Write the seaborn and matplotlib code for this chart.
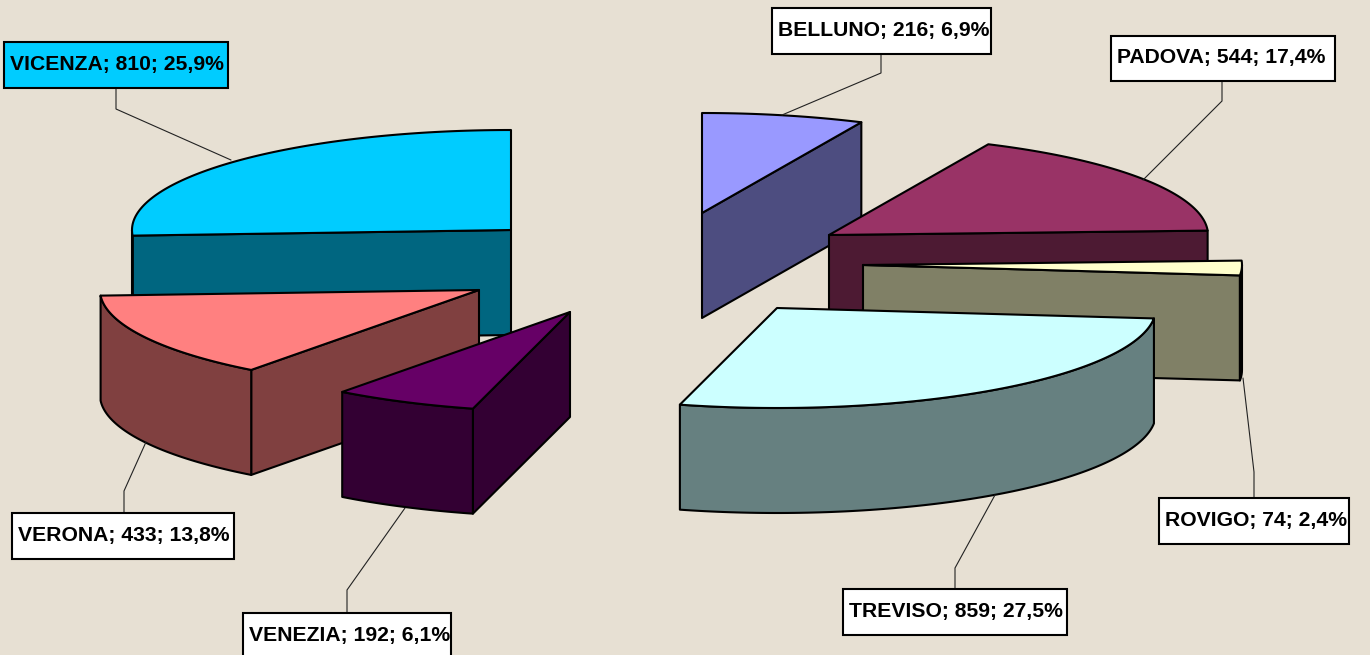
import numpy as np
import matplotlib
matplotlib.use("Agg")
import matplotlib.pyplot as plt
from matplotlib.patches import Polygon, Rectangle
import seaborn as sns

# ---- data ----
provinces = ["BELLUNO", "PADOVA", "ROVIGO", "TREVISO", "VENEZIA", "VERONA", "VICENZA"]
counts = [216, 544, 74, 859, 192, 433, 810]

# ---- styles ----
top_colors = ["#9999FF", "#993366", "#FFFFCC", "#CCFFFF", "#660066", "#FF8080", "#00CCFF"]
side_colors = ["#4D4D80", "#4D1A33", "#808066", "#668080", "#330033", "#804040", "#006680"]
label_faces = ["white", "white", "white", "white", "white", "white", "#00CCFF"]
BG = "#E7E0D3"
RX, RY, DEPTH = 379, 100, 105

# ---- layout (pixel space) ----
apexes = {"BELLUNO": (702, 213), "PADOVA": (829, 235), "ROVIGO": (863, 265),
          "TREVISO": (777, 308), "VENEZIA": (570, 312), "VERONA": (479, 290),
          "VICENZA": (511, 230)}
draw_order = ["BELLUNO", "VICENZA", "PADOVA", "ROVIGO", "VERONA", "TREVISO", "VENEZIA"]
boxes = {"BELLUNO": (772, 8, 991, 54), "PADOVA": (1111, 36, 1335, 81),
         "ROVIGO": (1159, 498, 1349, 544), "TREVISO": (843, 589, 1067, 635),
         "VENEZIA": (243, 613, 451, 662), "VERONA": (12, 513, 234, 559),
         "VICENZA": (4, 42, 228, 88)}
leaders = {"BELLUNO": [(881, 54), (881, 73), (782, 115)],
           "PADOVA": [(1222, 81), (1222, 101), (1143, 180)],
           "ROVIGO": [(1254, 498), (1254, 472), (1243, 378)],
           "TREVISO": [(955, 589), (955, 568), (995, 495)],
           "VENEZIA": [(347, 613), (347, 590), (405, 508)],
           "VERONA": [(124, 513), (124, 491), (146, 442)],
           "VICENZA": [(116, 88), (116, 109), (231, 160)]}

sns.set_theme(style="white")
plt.rcParams["font.family"] = ["Liberation Sans", "DejaVu Sans"]
tops = sns.color_palette(top_colors)
sides = sns.color_palette(side_colors)

fig = plt.figure(figsize=(13.70, 6.55), dpi=100, facecolor=BG)
ax = fig.add_axes([0, 0, 1, 1])
ax.set_xlim(0, 1370)
ax.set_ylim(655, 0)
ax.axis("off")

total = sum(counts)
edges = np.cumsum([0] + counts) / total * 2 * np.pi
z = 2
LW = 1.5


def rim(cx, cy, a, b):
    t = np.linspace(a, b, max(3, int((b - a) * 60)))
    return np.column_stack([cx + RX * np.sin(t), cy - RY * np.cos(t)])


def wall(points, color):
    global z
    pts = np.vstack([points, (points + [0, DEPTH])[::-1]])
    ax.add_patch(Polygon(pts, closed=True, facecolor=color, edgecolor="black",
                         linewidth=LW, joinstyle="round", zorder=z))
    z += 1


for name in draw_order:
    i = provinces.index(name)
    a, b = edges[i], edges[i + 1]
    cx, cy = apexes[name]
    apex = np.array([cx, cy], float)
    arc = rim(cx, cy, a, b)
    # a cut face is visible when its outward normal points towards the viewer
    if np.sin(a) < -1e-9:
        wall(np.array([apex, arc[0]]), sides[i])
    if np.sin(b) > 1e-9:
        wall(np.array([apex, arc[-1]]), sides[i])
    # visible part of the rim: lower half of the ellipse
    lo, hi = max(a, np.pi / 2), min(b, 3 * np.pi / 2)
    if hi > lo:
        wall(rim(cx, cy, lo, hi), sides[i])
    ax.add_patch(Polygon(np.vstack([apex, arc]), closed=True, facecolor=tops[i],
                         edgecolor="black", linewidth=LW, joinstyle="round", zorder=z))
    z += 1

for i, name in enumerate(provinces):
    pct = f"{counts[i] / total * 100:.1f}".replace(".", ",")
    x0, y0, x1, y1 = boxes[name]
    xs, ys = zip(*leaders[name])
    ax.plot(xs, ys, color="#222222", lw=0.8, zorder=z, solid_joinstyle="miter")
    ax.add_patch(Rectangle((x0, y0), x1 - x0, y1 - y0, facecolor=label_faces[i],
                           edgecolor="black", linewidth=1.5, zorder=z + 1))
    ax.text(x0 + 6, (y0 + min(y1, y0 + 46)) / 2 - 0.5, f"{name}; {counts[i]}; {pct}%",
            ha="left", va="center", fontsize=15.2, fontweight="bold", color="black",
            zorder=z + 2)

fig.savefig("out.png", dpi=100, facecolor=BG)
